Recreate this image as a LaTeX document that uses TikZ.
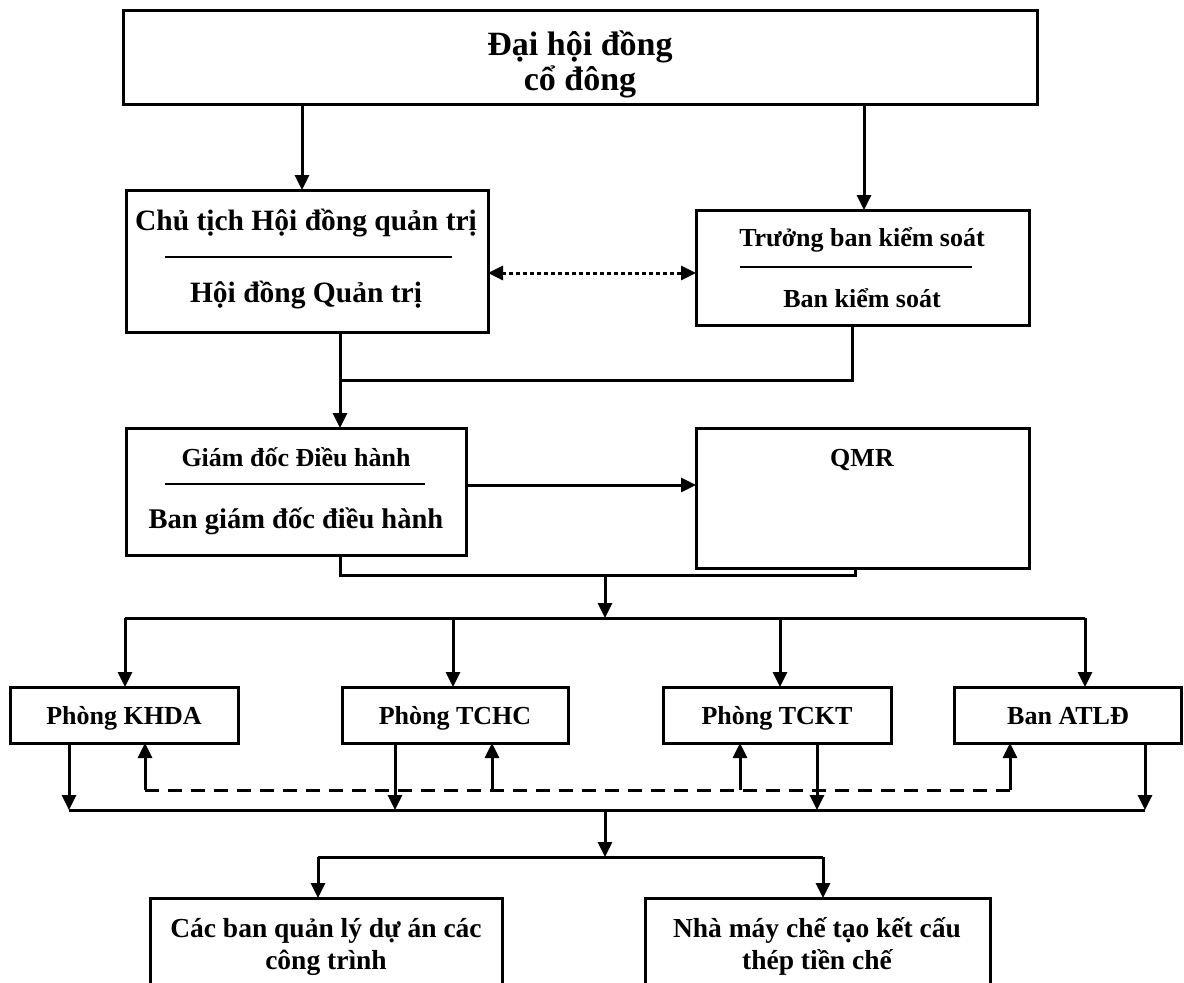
\documentclass[tikz,border=0pt]{standalone}
\usepackage{fontspec}
\setmainfont{Liberation Serif}
\usetikzlibrary{arrows.meta}
\begin{document}
\begin{tikzpicture}[x=1pt,y=-1pt,
  box/.style={draw, line width=3pt, anchor=north west, inner sep=0pt, outer sep=0pt},
  lbl/.style={font=\fontsize{26}{30}\selectfont\bfseries, inner sep=0pt, anchor=base},
  conn/.style={line width=3pt},
  arr/.style={line width=3pt, -{Triangle[width=14pt,length=15pt]}},
  sep/.style={line width=1.6pt},
  dashline/.style={line width=3pt, dash pattern=on 14pt off 9pt},
  dotline/.style={line width=3pt, dash pattern=on 4pt off 3pt}]
\useasboundingbox (0,0) rectangle (1184,983);
% boxes
\node[box, minimum width=914, minimum height=94] (dh) at (123,10) {};
\node[box, minimum width=362, minimum height=142] (ct) at (126,190) {};
\node[box, minimum width=333, minimum height=115] (tb) at (696,210) {};
\node[box, minimum width=340, minimum height=127] (gd) at (126,428) {};
\node[box, minimum width=333, minimum height=140] (qmr) at (696,428) {};
\node[box, minimum width=228, minimum height=56] (khda) at (10,687) {};
\node[box, minimum width=226, minimum height=56] (tchc) at (342,687) {};
\node[box, minimum width=228, minimum height=56] (tckt) at (663,687) {};
\node[box, minimum width=227, minimum height=56] (atld) at (954,687) {};
\node[box, minimum width=352, minimum height=110] (bql) at (150,898) {};
\node[box, minimum width=345, minimum height=110] (nm) at (645,898) {};
% texts
\node[lbl, font=\fontsize{34}{36}\selectfont\bfseries] (t1) at (580,55) {Đại hội đồng};
\node[lbl, font=\fontsize{34}{36}\selectfont\bfseries] (t2) at (580,90) {cổ đông};
\node[lbl, font=\fontsize{29.5}{32}\selectfont\bfseries] (t3) at (306,230) {Chủ tịch Hội đồng quản trị};
\node[lbl, font=\fontsize{29.5}{32}\selectfont\bfseries] (t4) at (306,302) {Hội đồng Quản trị};
\draw[sep] (165,257) -- (452,257);
\node[lbl] (t5) at (862,246) {Trưởng ban kiểm soát};
\node[lbl] (t6) at (862,307) {Ban kiểm soát};
\draw[sep] (740,267) -- (972,267);
\node[lbl] (t7) at (296,466) {Giám đốc Điều hành};
\node[lbl, font=\fontsize{28.5}{32}\selectfont\bfseries] (t8) at (296,528) {Ban giám đốc điều hành};
\draw[sep] (165,484) -- (425,484);
\node[lbl] (t9) at (862,466) {QMR};
\node[lbl] (t10) at (124,724) {Phòng KHDA};
\node[lbl] (t11) at (455,724) {Phòng TCHC};
\node[lbl] (t12) at (777,724) {Phòng TCKT};
\node[lbl] (t13) at (1068,724) {Ban ATLĐ};
\node[lbl, font=\fontsize{27.5}{30}\selectfont\bfseries] (t14) at (326,937) {Các ban quản lý dự án các};
\node[lbl, font=\fontsize{27.5}{30}\selectfont\bfseries] (t15) at (817,937) {Nhà máy chế tạo kết cấu};
\node[lbl, font=\fontsize{27.5}{30}\selectfont\bfseries] (t16) at (326,969) {công trình};
\node[lbl, font=\fontsize{27.5}{30}\selectfont\bfseries] (t17) at (817,969) {thép tiền chế};
% junction coordinates
\coordinate (j1) at (340,380);
\coordinate (j1r) at (852,380);
\coordinate (j2) at (340,575);
\coordinate (j2r) at (855,575);
\coordinate (j2m) at (605,575);
\coordinate (h1) at (605,618);
\coordinate (h1l) at (125,618);
\coordinate (h1r) at (1085,618);
\coordinate (h2l) at (69,810);
\coordinate (h2r) at (1145,810);
\coordinate (h2m) at (605,810);
\coordinate (h3) at (605,857);
\coordinate (h3l) at (318,857);
\coordinate (h3r) at (823,857);
\coordinate (dl) at (145,790);
\coordinate (dr) at (1010,790);
% connectors
\draw[arr] (dh.south -| 302,0) -- (ct.north -| 302,0);
\draw[arr] (dh.south -| 864,0) -- (tb.north -| 864,0);
\draw[dotline, {Triangle[width=14pt,length=15pt]}-{Triangle[width=14pt,length=15pt]}] (ct.east |- 0,273) -- (tb.west |- 0,273);
\draw[conn] (ct.south -| j1) -- (j1) -- (j1r) -- (tb.south -| j1r);
\draw[arr] (j1) -- (gd.north -| j1);
\draw[arr] (gd.east |- 0,485) -- (qmr.west |- 0,485);
\draw[conn] (gd.south -| j2) -- (j2) -- (j2r) -- (qmr.south -| j2r);
\draw[arr] (j2m) -- (h1);
\draw[conn] (h1l) -- (h1r);
\draw[arr] (h1l) -- (khda.north -| h1l);
\draw[arr] (h1 -| 453,0) -- (tchc.north -| 453,0);
\draw[arr] (h1 -| 780,0) -- (tckt.north -| 780,0);
\draw[arr] (h1r) -- (atld.north -| h1r);
\draw[arr] (khda.south -| h2l) -- (h2l);
\draw[arr] (tchc.south -| 395,0) -- (h2l -| 395,0);
\draw[arr] (tckt.south -| 817,0) -- (h2l -| 817,0);
\draw[arr] (atld.south -| h2r) -- (h2r);
\draw[conn] (h2l) -- (h2r);
\draw[dashline] (dl) -- (dr);
\draw[arr] (dl) -- (khda.south -| dl);
\draw[arr] (dl -| 492,0) -- (tchc.south -| 492,0);
\draw[arr] (dl -| 740,0) -- (tckt.south -| 740,0);
\draw[arr] (dr) -- (atld.south -| dr);
\draw[arr] (h2m) -- (h3);
\draw[conn] (h3l) -- (h3r);
\draw[arr] (h3l) -- (bql.north -| h3l);
\draw[arr] (h3r) -- (nm.north -| h3r);
\end{tikzpicture}
\end{document}
